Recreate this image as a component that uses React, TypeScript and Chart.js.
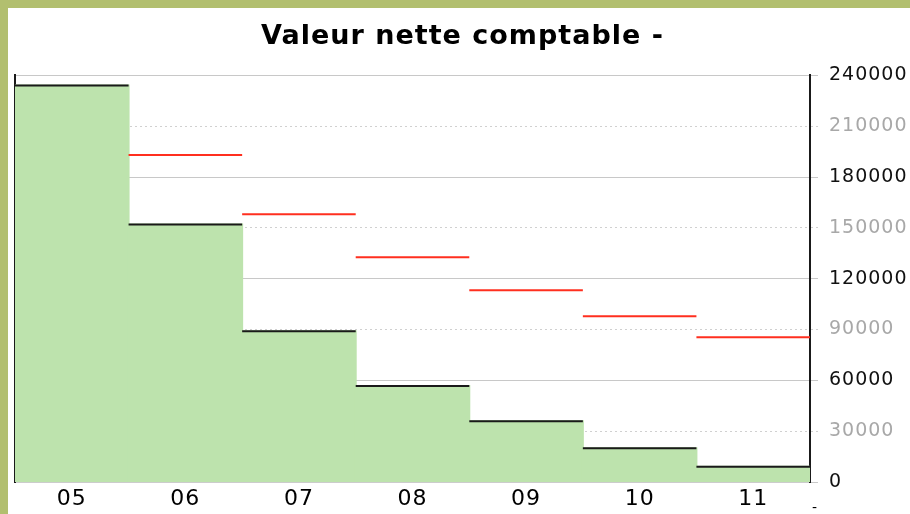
import React, { useEffect, useRef } from "react";
import { Chart, registerables } from "chart.js";

Chart.register(...registerables);

const TITLE = "Valeur nette comptable -";
const CATEGORIES = ["05", "06", "07", "08", "09", "10", "11"];
const NET_BOOK_VALUE = [234000, 152000, 89000, 56600, 35800, 19900, 9000];
const RED_VALUES: (number | null)[] = [null, 193000, 158000, 132700, 113200, 97900, 85500];
const Y_MIN = 0;
const Y_MAX = 240000;
const Y_STEP = 30000;
const Y_MAJOR = 60000;
const UNIT_LABEL = "-";

const OLIVE = "#b2bf6f";
const GREEN = "#bde3ad";
const RED = "#ff2f1f";
const BLACK = "#1a1a1a";

const isMinor = (v: number) => v % Y_MAJOR !== 0;

const levelLinePlugin = {
  id: "levelLines",
  beforeDraw(chart: any) {
    (chart.ctx as any).letterSpacing = "1px";
  },
  afterDatasetsDraw(chart: any) {
    const ctx = chart.ctx;
    const drawLevels = (datasetIndex: number, values: (number | null)[], color: string, offset: number) => {
      const meta = chart.getDatasetMeta(datasetIndex);
      ctx.save();
      ctx.strokeStyle = color;
      ctx.lineWidth = 2;
      meta.data.forEach((el: any, i: number) => {
        if (values[i] == null) return;
        const half = el.width / 2;
        ctx.beginPath();
        ctx.moveTo(el.x - half, el.y + offset);
        ctx.lineTo(el.x + half, el.y + offset);
        ctx.stroke();
      });
      ctx.restore();
    };
    drawLevels(0, NET_BOOK_VALUE, BLACK, 0);
    drawLevels(1, RED_VALUES, RED, 0);
  },
  afterDraw(chart: any) {
    const ctx = chart.ctx;
    ctx.save();
    ctx.fillStyle = "#000";
    ctx.font = "14px 'DejaVu Sans'";
    ctx.textBaseline = "bottom";
    ctx.fillText(UNIT_LABEL, chart.chartArea.right + 2, chart.height + 1);
    ctx.restore();
  },
};

export default function App() {
  const ref = useRef<HTMLCanvasElement | null>(null);

  useEffect(() => {
    if (!ref.current) return;
    const chart = new Chart(ref.current, {
      type: "bar",
      data: {
        labels: CATEGORIES,
        datasets: [
          {
            data: NET_BOOK_VALUE,
            yAxisID: "y",
            backgroundColor: GREEN,
            borderWidth: 0,
            barPercentage: 1,
            categoryPercentage: 1,
            inflateAmount: 1,
            grouped: false,
            order: 2,
          },
          {
            data: RED_VALUES,
            yAxisID: "y",
            backgroundColor: "rgba(0,0,0,0)",
            borderWidth: 0,
            barPercentage: 1,
            categoryPercentage: 1,
            grouped: false,
            order: 1,
          },
        ],
      } as any,
      options: {
        animation: false,
        responsive: true,
        maintainAspectRatio: false,
        layout: { padding: { left: 7, right: 0, top: 0, bottom: 0 } },
        plugins: {
          legend: { display: false },
          tooltip: { enabled: false },
          title: {
            display: true,
            text: TITLE,
            color: "#000",
            font: { family: "'DejaVu Sans'", size: 27, weight: "bold", lineHeight: 1.2 },
            padding: { top: 13, bottom: 22 },
          },
        },
        scales: {
          x: {
            grid: { display: false, drawTicks: false },
            border: { display: true, color: "#cccccc", width: 1 },
            ticks: {
              color: "#000",
              font: { family: "'DejaVu Sans'", size: 22 },
              padding: 4,
              maxRotation: 0,
            },
            afterFit: (s: any) => {
              s.height = 32;
            },
          },
          yLeft: {
            position: "left",
            min: 0,
            max: 1,
            grid: { display: false, drawTicks: false, drawOnChartArea: false },
            border: { display: true, color: BLACK, width: 2 },
            ticks: { display: false },
            afterFit: (s: any) => {
              s.width = 0;
            },
          },
          y: {
            position: "right",
            min: Y_MIN,
            max: Y_MAX,
            ticks: {
              stepSize: Y_STEP,
              padding: 11,
              font: { family: "'DejaVu Sans'", size: 19 },
              color: (c: any) => (c.tick && isMinor(c.tick.value) ? "#a8a8a8" : "#111"),
              callback: (v: any) => String(v),
            },
            grid: {
              color: (c: any) => (c.tick && isMinor(c.tick.value) ? "#d0d0d0" : "#c8c8c8"),
              lineWidth: 1,
              tickLength: 8,
              tickBorderDash: (c: any) => (c.tick && isMinor(c.tick.value) ? [2, 3] : []),
            },
            border: {
              display: true,
              color: BLACK,
              width: 2,
              dash: (c: any) => (c.tick && isMinor(c.tick.value) ? [2, 3] : []),
            },
            afterFit: (s: any) => {
              s.width = 100;
            },
          },
        },
      } as any,
      plugins: [levelLinePlugin],
    });
    return () => chart.destroy();
  }, []);

  return (
    <div
      style={{
        position: "absolute",
        left: 0,
        top: 0,
        width: 910,
        height: 514,
        background: OLIVE,
        overflow: "hidden",
      }}
    >
      <div
        style={{
          position: "absolute",
          left: 8,
          top: 8,
          width: 902,
          height: 506,
          background: "#fff",
        }}
      >
        <canvas ref={ref} />
      </div>
    </div>
  );
}
